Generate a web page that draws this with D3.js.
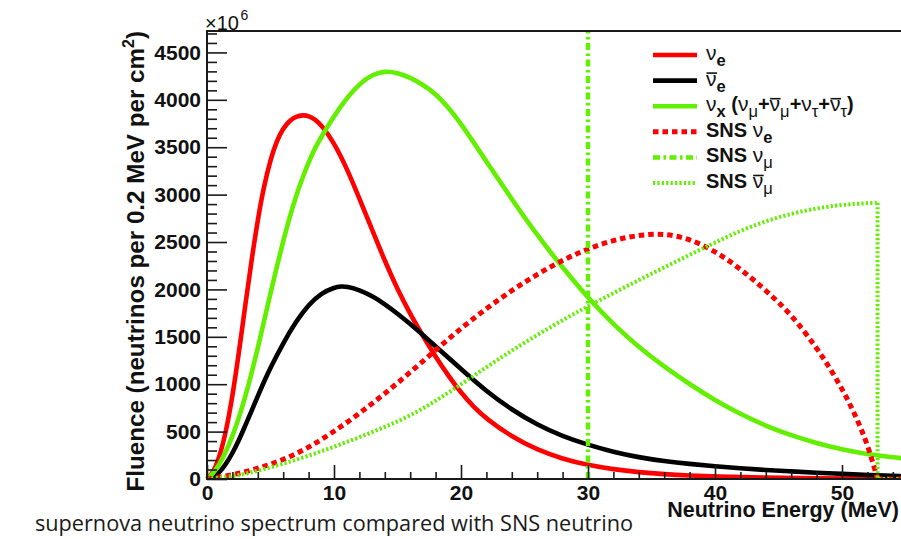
<!DOCTYPE html>
<html><head><meta charset="utf-8">
<script src="https://cdn.jsdelivr.net/npm/d3@7/dist/d3.min.js"></script>
<style>
html,body{margin:0;padding:0;background:#fff;}
svg{display:block;}
</style></head><body>
<svg id="c" width="901" height="539"></svg>
<script>
// ---------------- data (fluence in units of 10^6 per 0.2 MeV per cm^2) ----------------
const nueE  = [0,0.5,1,1.5,2,2.5,3,3.5,4,4.5,5,5.5,6,6.5,7,7.6,8,8.5,9,10,11,12,13,14,15,16,17,18,19,20,21,22,24,26,28,30,32,34,36,38,40,44,48,52,55];
const nueF  = [0,70,240,500,870,1320,1820,2300,2740,3100,3370,3570,3700,3780,3825,3840,3830,3795,3735,3550,3280,2960,2630,2300,2000,1740,1510,1290,1090,910,760,635,445,308,212,146,102,71,50,36,26,13,7,4,2];

const anueE = [0,0.5,1,1.5,2,2.5,3,3.5,4,4.5,5,6,7,8,9,10,10.6,11,12,13,14,15,16,17,18,20,22,24,26,28,30,32,34,36,38,40,42,44,46,48,50,52,55];
const anueF = [0,15,70,160,270,405,560,715,875,1030,1175,1435,1660,1840,1960,2020,2033,2030,1995,1930,1845,1745,1635,1520,1400,1160,925,730,570,450,360,285,228,188,158,135,113,95,80,66,54,42,28];

const nuxE  = [0,0.5,1,1.5,2,2.5,3,3.5,4,4.5,5,5.5,6,6.5,7,7.5,8,8.5,9,10,11,12,13,14,15,16,17,18,19,20,22,24,26,28,30,32,34,36,38,40,42,44,46,48,50,52,54,55];
const nuxF  = [0,60,160,290,450,640,860,1110,1380,1670,1960,2240,2510,2760,2980,3170,3340,3490,3610,3830,4020,4170,4265,4305,4285,4235,4160,4065,3920,3750,3350,2950,2570,2230,1910,1630,1390,1185,1000,830,685,560,460,378,312,262,228,215];

const snsNueE = [0,2,4,6,8,10,12,14,16,18,20,22,24,26,28,30,32,34,36,38,40,42,44,46,48,49,50,51,52,52.8];
const snsNueF = [0,40,110,200,330,500,690,900,1125,1360,1590,1800,1990,2160,2310,2430,2520,2575,2590,2535,2405,2220,1990,1740,1385,1180,955,690,375,0];
const snsNueTail = [[52.8,0],[55,0]];

const snsNumuE = [30,30];
const snsNumuF = [0,5000];

const snsAnumuE = [0,2,4,6,8,10,12,14,16,18,20,22,24,26,28,30,32,34,36,38,40,42,44,46,48,50,52,52.8];
const snsAnumuF = [0,25,85,160,245,340,440,548,665,822,998,1180,1355,1520,1677,1823,1962,2098,2232,2365,2494,2620,2722,2800,2856,2894,2910,2914];
const snsAnumuTail = [[52.8,0],[55,0]];

const xTickVals = [0,10,20,30,40,50];
const yTickVals = [0,500,1000,1500,2000,2500,3000,3500,4000,4500];
const xDomain = [0,55];
const yDomain = [0,4726];

const xTitle = "Neutrino Energy (MeV)";
const caption = "supernova neutrino spectrum compared with SNS neutrino";

// ---------------- drawing ----------------
const svg = d3.select("#c");
const FONT = "'Liberation Sans', Arial, Helvetica, sans-serif";
const x = d3.scaleLinear().domain(xDomain).range([207, 905.5]);
const y = d3.scaleLinear().domain(yDomain).range([479, 31]);

svg.append("defs").append("clipPath").attr("id","plot")
  .append("rect").attr("x",205).attr("y",31).attr("width",702).attr("height",449);

const zip = (E,F) => E.map((e,i)=>[e,F[i]]);
const lineB = d3.line().x(d=>x(d[0])).y(d=>y(d[1])).curve(d3.curveBasis);
const lineL = d3.line().x(d=>x(d[0])).y(d=>y(d[1]));

const GREEN = "#62ef00";
const styles = {
  nue:   {color:"#ff0000", w:4.6, dash:null},
  anue:  {color:"#000000", w:4.6, dash:null},
  nux:   {color:GREEN, w:4.6, dash:null},
  snue:  {color:"#ff0000", w:5, dash:"5.5,4"},
  snumu: {color:GREEN, w:4.5, dash:"7,3.5,2.5,3.5"},
  sanumu:{color:GREEN, w:4, dash:"2.2,2.2"}
};

const g = svg.append("g").attr("clip-path","url(#plot)");
function draw(pts, st, gen){
  g.append("path").attr("d", gen(pts)).attr("fill","none")
   .attr("stroke", st.color).attr("stroke-width", st.w)
   .attr("stroke-dasharray", st.dash).attr("stroke-linejoin","round");
}
draw(zip(nueE,nueF), styles.nue, lineB);
draw(zip(anueE,anueF), styles.anue, lineB);
draw(zip(nuxE,nuxF), styles.nux, lineB);
draw(zip(snsNueE,snsNueF), styles.snue, lineB);
draw(snsNueTail, styles.snue, lineL);
draw(zip(snsNumuE,snsNumuF), styles.snumu, lineL);
draw(zip(snsAnumuE,snsAnumuF), styles.sanumu, lineB);
draw([[snsAnumuE[snsAnumuE.length-1], snsAnumuF[snsAnumuF.length-1]]].concat(snsAnumuTail), styles.sanumu, lineL);

// axes
const AX = "#1a1a1a";
const yMinor = d3.range(0, 4701, 100).filter(v=>v%500!==0);
const xMinor = d3.range(0, 55.1, 2).filter(v=>v%10!==0);

svg.append("g").attr("transform","translate(207,0)")
  .call(d3.axisLeft(y).tickValues(yTickVals).tickSizeInner(-20).tickSizeOuter(0).tickPadding(6).tickFormat(d3.format("d")));
svg.append("g").attr("transform","translate(207,0)")
  .call(d3.axisLeft(y).tickValues(yMinor).tickSizeInner(-10).tickSizeOuter(0).tickFormat(""));
svg.append("g").attr("transform","translate(0,479)")
  .call(d3.axisBottom(x).tickValues(xTickVals).tickSizeInner(-14).tickSizeOuter(0).tickPadding(6).tickFormat(d3.format("d")));
svg.append("g").attr("transform","translate(0,479)")
  .call(d3.axisBottom(x).tickValues(xMinor).tickSizeInner(-7).tickSizeOuter(0).tickFormat(""));
svg.selectAll(".domain").remove();
svg.selectAll(".tick line").attr("stroke",AX).attr("stroke-width",1.6);
svg.selectAll(".tick text").attr("font-family",FONT).attr("font-weight","bold")
  .attr("font-size",21).attr("fill","#111");

// frame
const fr = svg.append("g").attr("stroke",AX).attr("stroke-width",2).attr("fill","none");
fr.append("line").attr("x1",x(0)).attr("x2",x(0)).attr("y1",y(yDomain[1])).attr("y2",y(0));
fr.append("line").attr("x1",x(0)-1).attr("x2",x(xDomain[1])).attr("y1",y(0)).attr("y2",y(0));
fr.append("line").attr("x1",x(0)-1).attr("x2",x(xDomain[1])).attr("y1",y(yDomain[1])).attr("y2",y(yDomain[1]));

// x10^6
const ex = svg.append("text").attr("x",205).attr("y",29.5).attr("font-family",FONT).attr("font-size",20).attr("fill","#111");
ex.append("tspan").text("×10");
ex.append("tspan").attr("font-size",14).attr("dx",1.5).attr("dy",-10).text("6");

// axis titles
svg.append("text").attr("x",899).attr("y",516.5).attr("text-anchor","end")
  .attr("font-family",FONT).attr("font-weight","bold").attr("font-size",21.5).attr("fill","#111").text(xTitle);
const yt = svg.append("text").attr("transform","translate(144,31) rotate(-90)").attr("text-anchor","end")
  .attr("font-family",FONT).attr("font-weight","bold").attr("font-size",24.2).attr("fill","#111");
yt.append("tspan").text("Fluence (neutrinos per 0.2 MeV per cm");
yt.append("tspan").attr("font-size",16).attr("dy",-10).text("2");
yt.append("tspan").attr("dy",10).text(")");

// legend
const NU="ν";
const legend = [
  {s:"nue",   parts:[[NU,"sym"],["e","sb"]]},
  {s:"anue",  parts:[[NU,"bar"],["e","sb"]]},
  {s:"nux",   parts:[[NU,"sym"],["x","sb"],[" (","b"],[NU,"sym"],["μ","ss"],["+","b"],[NU,"bar"],["μ","ss"],["+","b"],[NU,"sym"],["τ","ss"],["+","b"],[NU,"bar"],["τ","ss"],[")","b"]]},
  {s:"snue",  parts:[["SNS ","b"],[NU,"sym"],["e","sb"]]},
  {s:"snumu", parts:[["SNS ","b"],[NU,"sym"],["μ","ss"]]},
  {s:"sanumu",parts:[["SNS ","b"],[NU,"bar"],["μ","ss"]]}
];
legend.forEach((it,i)=>{
  const ry = 55 + i*25.6;
  const st = styles[it.s];
  svg.append("line").attr("x1",653).attr("x2",697).attr("y1",ry).attr("y2",ry)
    .attr("stroke",st.color).attr("stroke-width",st.w).attr("stroke-dasharray",st.dash);
  const t = svg.append("text").attr("x",706).attr("y",ry+5).attr("font-family",FONT).attr("fill","#111");
  let shift = 0, idx = 0; const bars = [];
  it.parts.forEach(([txt,kind])=>{
    const sp = t.append("tspan").text(txt);
    const isSub = kind==="sb"||kind==="ss";
    const target = isSub ? 6 : 0;
    if (target!==shift){ sp.attr("dy", target-shift); shift=target; }
    if (kind==="sym"||kind==="bar") sp.attr("font-size",21).attr("font-weight","normal");
    else if (kind==="sb") sp.attr("font-size",16.5).attr("font-weight","bold");
    else if (kind==="ss") sp.attr("font-size",16.5).attr("font-weight","normal");
    else sp.attr("font-size",20).attr("font-weight","bold");
    if (kind==="bar") bars.push(idx);
    idx += txt.length;
  });
  bars.forEach(ci=>{
    const e = t.node().getExtentOfChar(ci);
    svg.append("line").attr("x1",e.x+0.5).attr("x2",e.x+e.width+0.5)
      .attr("y1",ry-7.5).attr("y2",ry-7.5).attr("stroke","#111").attr("stroke-width",1.6);
  });
});

// caption
svg.append("text").attr("x",633).attr("y",531).attr("text-anchor","end")
  .attr("font-family","'Open Sans','Noto Sans',sans-serif")
  .attr("font-size",21.7).attr("fill","#1a1a1a").text(caption);
</script>
</body></html>
